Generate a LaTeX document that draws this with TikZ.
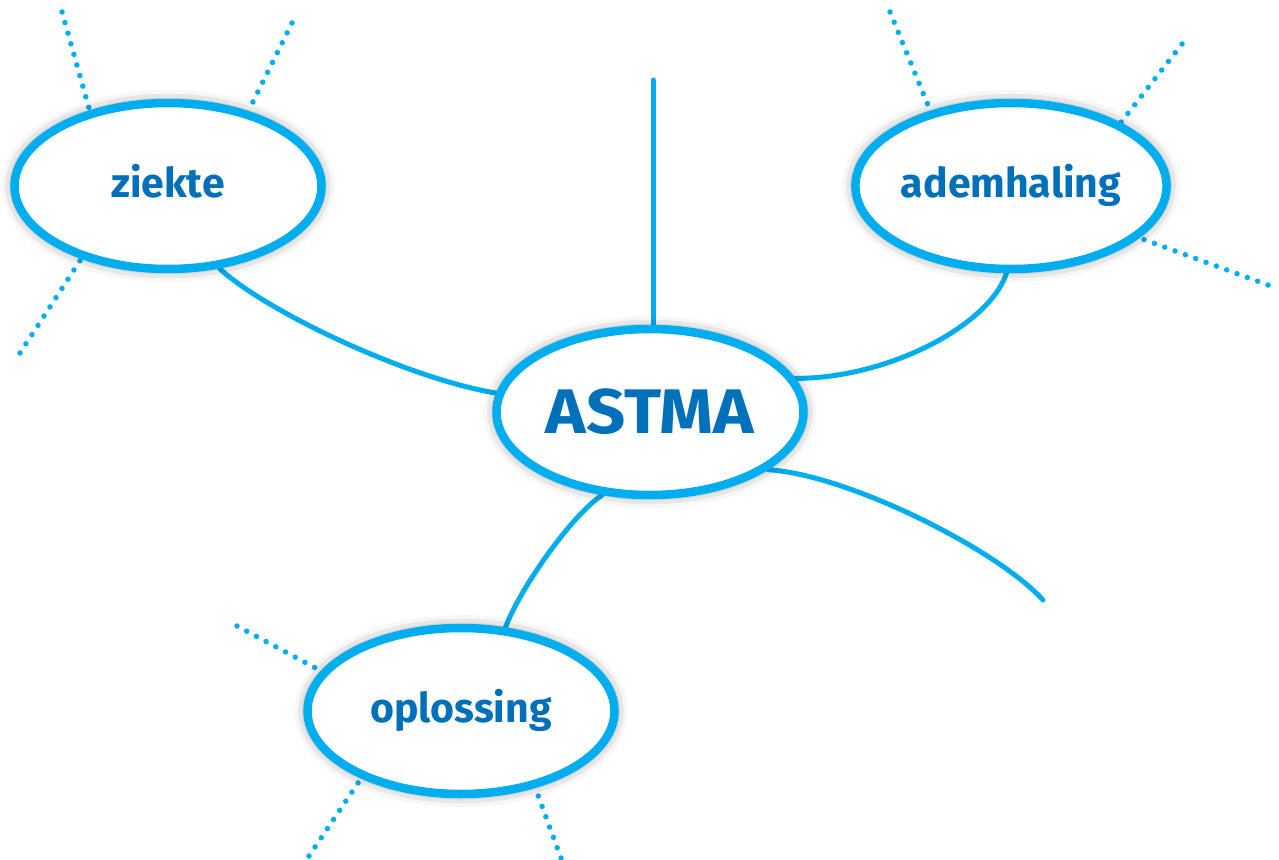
\documentclass[tikz,border=0pt]{standalone}
\usepackage{fontspec}
\setmainfont{Fira Sans}
\usetikzlibrary{shapes.geometric,backgrounds,shadows.blur}
\definecolor{cyanline}{RGB}{0,174,239}
\definecolor{textblue}{RGB}{0,112,186}
\tikzset{
  bubble/.style={ellipse, draw=cyanline, line width=8.5pt, fill=white,
    minimum width=307pt, minimum height=166pt, inner sep=0pt,
    text=textblue, font=\fontsize{41}{41}\selectfont\bfseries,
    text height=22pt, text depth=0pt,
    blur shadow={shadow xshift=0pt, shadow yshift=0pt,
      shadow blur radius=13pt, shadow opacity=50}},
  bigbubble/.style={bubble, font=\fontsize{63}{63}\selectfont\bfseries, text height=43pt},
  link/.style={draw=cyanline, line width=5pt, line cap=round},
  dots/.style={draw=cyanline, line width=5.5pt, line cap=round, dash pattern=on 0pt off 11pt}
}
\begin{document}
\begin{tikzpicture}[x=1pt, y=-1pt]
\useasboundingbox (0,0) rectangle (1279,859);
\node[bubble] (ziekte) at (168,186) {ziekte};
\node[bubble] (ademhaling) at (1011,186) {ademhaling};
\node[bigbubble] (ASTMA) at (650,412) {\scalebox{1.09}[1]{ASTMA}};
\node[bubble] (oplossing) at (461,711) {oplossing};
\coordinate (vtop) at (653,80);
\coordinate (freeend) at (1043,600);
\coordinate (zTL) at (62,12);
\coordinate (zTR) at (292,23);
\coordinate (zBL) at (20,353);
\coordinate (aTL) at (890,12);
\coordinate (aTR) at (1182,44);
\coordinate (aBR) at (1268,285);
\coordinate (oL) at (237,626);
\coordinate (oBL) at (309,856);
\coordinate (oBR) at (561,858);
\begin{pgfonlayer}{background}
\draw[link] (vtop) -- (vtop |- ASTMA.north);
\draw[link] (ziekte.-58) .. controls +(45,42) and +(-90,-15) .. (ASTMA.173);
\draw[link] (ademhaling.-93) .. controls +(-17,52) and +(93,0) .. (ASTMA.13);
\draw[link] (ASTMA.-120) .. controls +(-30,20) and +(15,-40) .. (oplossing.62);
\draw[link] (ASTMA.-26) .. controls +(80,5) and +(-45,-50) .. (freeend);
\draw[dots] (zTL) -- (ziekte.136);
\draw[dots] (zTR) -- (ziekte.43);
\draw[dots] (zBL) -- (ziekte.220);
\draw[dots] (aTL) -- (ademhaling.137);
\draw[dots] (aTR) -- (ademhaling.30);
\draw[dots] (aBR) -- (ademhaling.-22);
\draw[dots] (oL) -- (oplossing.164);
\draw[dots] (oBL) -- (oplossing.-146);
\draw[dots] (oBR) -- (oplossing.-46);
\end{pgfonlayer}
\end{tikzpicture}
\end{document}
